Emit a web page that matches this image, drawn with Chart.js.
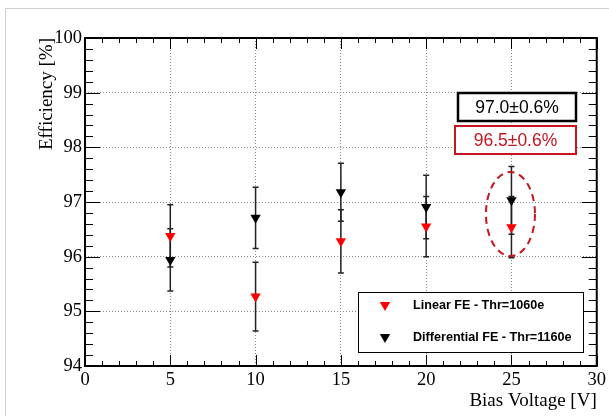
<!DOCTYPE html>
<html>
<head>
<meta charset="utf-8">
<script src="https://cdn.jsdelivr.net/npm/chart.js@4.4.1/dist/chart.umd.min.js"></script>
<style>
  html, body { margin: 0; padding: 0; background: #fff; }
  #wrap { width: 609px; height: 416px; }
</style>
</head>
<body>
<div id="wrap"><canvas id="effChart" width="609" height="416"></canvas></div>
<script>
// bias voltage [V]
const biasVoltage = [5, 10, 15, 20, 25];

// Linear FE - Thr=1060e
const linearEff = [96.38, 95.27, 96.28, 96.55, 96.54];
const linearErr = [0.57, 0.63, 0.58, 0.55, 0.56];

// Differential FE - Thr=1160e
const diffEff = [95.94, 96.71, 97.18, 96.91, 97.03];
const diffErr = [0.57, 0.56, 0.53, 0.58, 0.62];

const xTicks = [0, 5, 10, 15, 20, 25, 30];
const yTicks = [94, 95, 96, 97, 98, 99, 100];

const seriesLabels = ['Linear FE - Thr=1060e', 'Differential FE - Thr=1160e'];
const noteLabels = ['97.0\u00b10.6%', '96.5\u00b10.6%'];

const RED = '#ff0000';
const DARKRED = '#c8141e';
const SERIF = '"Liberation Serif", "Times New Roman", serif';
const SANS = '"Liberation Sans", Arial, sans-serif';

function toPoints(xs, ys) {
    return xs.map((x, i) => ({ x: x, y: ys[i] }));
}

function drawTriangle(ctx, x, y) {
    Chart.helpers.drawPoint(ctx, { pointStyle: 'triangle', rotation: 180, radius: 6, borderWidth: 0 }, x, y);
}

const rootStyle = {
    id: 'rootStyle',
    beforeDraw(chart) {
        const ctx = chart.ctx;
        ctx.save();
        ctx.fillStyle = '#fff';
        ctx.fillRect(0, 0, chart.width, chart.height);
        // outer grey frame of the canvas
        ctx.strokeStyle = '#cfcfcf';
        ctx.lineWidth = 1;
        ctx.strokeRect(5.5, 8.5, 800, 800);
        ctx.restore();
    },
    beforeDatasetsDraw(chart) {
        // error bars
        const ctx = chart.ctx;
        const xs = chart.scales.x, ys = chart.scales.y;
        const sets = [[linearEff, linearErr], [diffEff, diffErr]];
        ctx.save();
        ctx.strokeStyle = '#222';
        ctx.lineWidth = 1.5;
        sets.forEach(([vals, errs]) => {
            biasVoltage.forEach((v, i) => {
                const px = xs.getPixelForValue(v);
                const top = ys.getPixelForValue(vals[i] + errs[i]);
                const bot = ys.getPixelForValue(vals[i] - errs[i]);
                ctx.beginPath();
                ctx.moveTo(px, top);
                ctx.lineTo(px, bot);
                ctx.moveTo(px - 3, top);
                ctx.lineTo(px + 3, top);
                ctx.moveTo(px - 3, bot);
                ctx.lineTo(px + 3, bot);
                ctx.stroke();
            });
        });
        ctx.restore();
    },
    afterDatasetsDraw(chart) {
        const ctx = chart.ctx;
        const a = chart.chartArea;
        const xs = chart.scales.x, ys = chart.scales.y;
        ctx.save();

        // inward ticks on all four sides
        ctx.strokeStyle = '#000';
        ctx.lineWidth = 1;
        ctx.beginPath();
        for (let k = 0; k <= 30; k++) {
            const v = 94 + k * 0.2;
            const py = Math.round(ys.getPixelForValue(v)) + 0.5;
            const len = k % 5 === 0 ? 15 : 8;
            ctx.moveTo(a.left, py); ctx.lineTo(a.left + len, py);
            ctx.moveTo(a.right, py); ctx.lineTo(a.right - len, py);
        }
        for (let v = 0; v <= 30; v++) {
            const px = Math.round(xs.getPixelForValue(v)) + 0.5;
            const len = v % 5 === 0 ? 11 : 5;
            ctx.moveTo(px, a.bottom); ctx.lineTo(px, a.bottom - len);
            ctx.moveTo(px, a.top); ctx.lineTo(px, a.top + len);
        }
        ctx.stroke();

        // frame
        ctx.lineWidth = 2;
        ctx.strokeRect(a.left, a.top, a.right - a.left, a.bottom - a.top);

        // axis titles
        ctx.fillStyle = '#000';
        ctx.font = '19px ' + SERIF;
        ctx.textBaseline = 'alphabetic';
        ctx.textAlign = 'right';
        ctx.fillText('Bias Voltage [V]', a.right, 406);
        ctx.save();
        ctx.translate(52, a.top);
        ctx.rotate(-Math.PI / 2);
        ctx.fillText('Efficiency [%]', 0, 0);
        ctx.restore();

        // legend box
        const lg = { x: 358, y: 292, w: 225, h: 60 };
        ctx.fillStyle = '#fff';
        ctx.fillRect(lg.x, lg.y, lg.w, lg.h);
        ctx.lineWidth = 1;
        ctx.strokeStyle = '#000';
        ctx.strokeRect(lg.x + 0.5, lg.y + 0.5, lg.w, lg.h);
        const cols = [RED, '#000'];
        ctx.font = 'bold 12.6px ' + SANS;
        ctx.textAlign = 'left';
        ctx.textBaseline = 'middle';
        seriesLabels.forEach((lab, i) => {
            const cy = lg.y + 14 + i * 32;
            ctx.fillStyle = cols[i];
            drawTriangle(ctx, lg.x + 27, cy - 1);
            ctx.fillStyle = '#000';
            ctx.fillText(lab, lg.x + 55, cy);
        });

        // result boxes
        const cx = xs.getPixelForValue(25);
        const boxes = [
            { y: 93, col: '#000', lw: 2.5, left: 458 },
            { y: 126, col: DARKRED, lw: 2, left: 455 }
        ];
        ctx.font = '17.5px ' + SANS;
        ctx.textAlign = 'center';
        boxes.forEach((b, i) => {
            const right = 576;
            ctx.fillStyle = '#fff';
            ctx.fillRect(b.left, b.y, right - b.left, 28);
            ctx.strokeStyle = b.col;
            ctx.lineWidth = b.lw;
            ctx.strokeRect(b.left, b.y, right - b.left, 28);
            ctx.fillStyle = b.col;
            ctx.fillText(noteLabels[i], (b.left + right) / 2, b.y + 15);
        });

        // dashed ellipse around the 25 V points
        const ey = ys.getPixelForValue(96.78);
        ctx.strokeStyle = DARKRED;
        ctx.lineWidth = 2;
        ctx.setLineDash([7, 5]);
        ctx.beginPath();
        ctx.ellipse(cx - 1, ey, 24.5, 42, 0, 0, Math.PI * 2);
        ctx.stroke();
        ctx.setLineDash([]);

        ctx.restore();
    }
};

const ctx = document.getElementById('effChart').getContext('2d');
const effChart = new Chart(ctx, {
    type: 'scatter',
    data: {
        datasets: [
            {
                label: seriesLabels[0],
                data: toPoints(biasVoltage, linearEff),
                pointStyle: 'triangle',
                rotation: 180,
                pointRadius: 6,
                pointBorderWidth: 0,
                backgroundColor: RED,
                borderColor: RED
            },
            {
                label: seriesLabels[1],
                data: toPoints(biasVoltage, diffEff),
                pointStyle: 'triangle',
                rotation: 180,
                pointRadius: 6,
                pointBorderWidth: 0,
                backgroundColor: '#000',
                borderColor: '#000'
            }
        ]
    },
    options: {
        responsive: false,
        animation: false,
        devicePixelRatio: 1,
        layout: { padding: { top: 38, right: 9, left: 0, bottom: 0 } },
        plugins: {
            legend: { display: false },
            tooltip: { enabled: false }
        },
        scales: {
            x: {
                type: 'linear',
                min: 0,
                max: 30,
                afterFit(s) { s.height = 50; },
                afterBuildTicks(s) { s.ticks = xTicks.map(v => ({ value: v })); },
                ticks: { color: '#000', font: { family: SERIF, size: 18.5 }, padding: 3 },
                grid: { color: '#8a8a8a', lineWidth: 1, drawTicks: false },
                border: { display: false, dash: [1, 2] }
            },
            y: {
                type: 'linear',
                min: 94,
                max: 100,
                afterFit(s) { s.width = 85; },
                afterBuildTicks(s) { s.ticks = yTicks.map(v => ({ value: v })); },
                ticks: { color: '#000', font: { family: SERIF, size: 18.5 }, padding: 3 },
                grid: { color: '#8a8a8a', lineWidth: 1, drawTicks: false },
                border: { display: false, dash: [1, 2] }
            }
        }
    },
    plugins: [rootStyle]
});
</script>
</body>
</html>
